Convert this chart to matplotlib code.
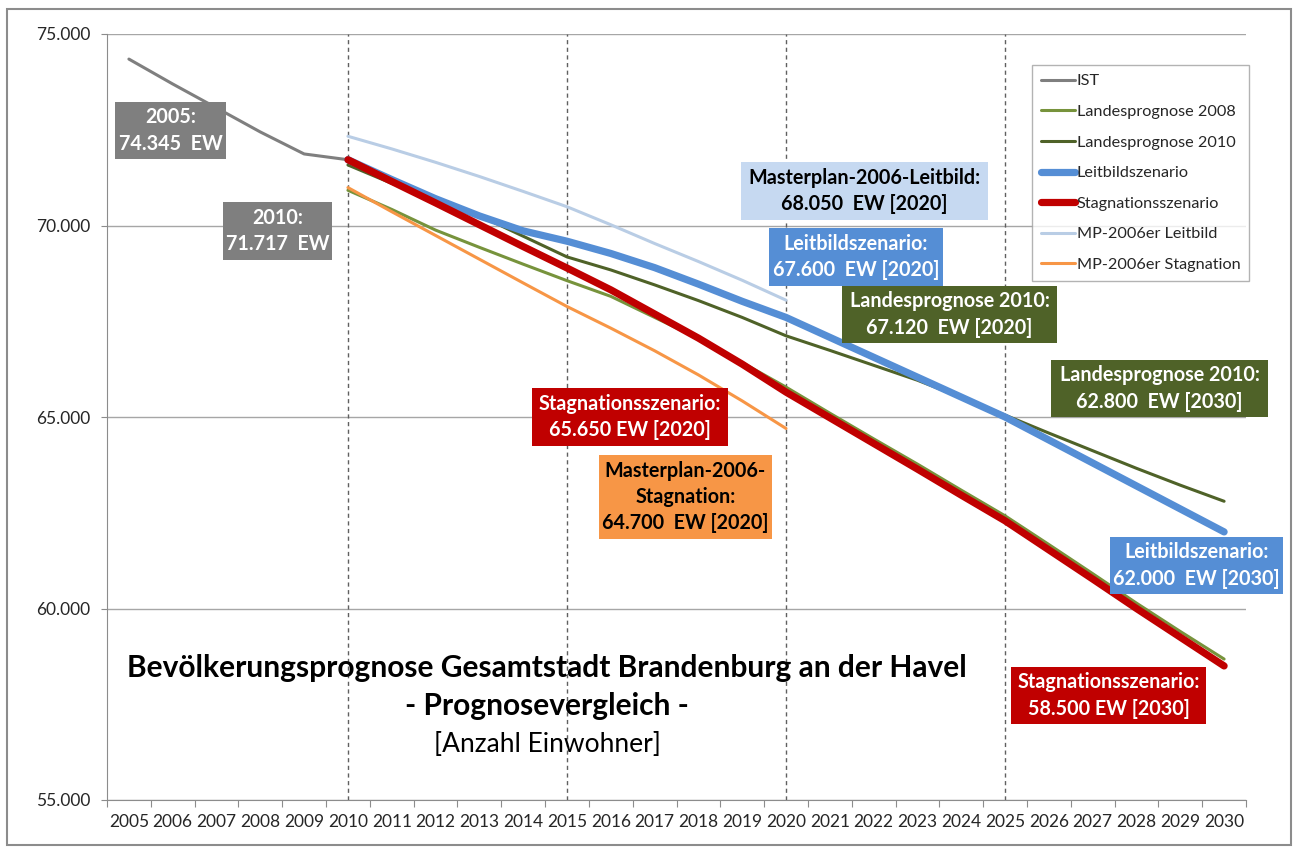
import numpy as np
import matplotlib
matplotlib.use("Agg")
import matplotlib.pyplot as plt
from matplotlib.patches import Rectangle
from matplotlib.ticker import FixedLocator, FuncFormatter, NullFormatter

plt.rcParams['font.family'] = ['Lato', 'DejaVu Sans']

# --- data (Einwohner) ---
years = list(range(2005, 2031))
ist = [74345, 73695, 73070, 72442, 71868, 71717]                 # 2005-2010
# prognoses 2010-2030
lp2008 = [70920, 70420, 69880, 69430, 68990, 68560, 68150, 67600, 67050, 66420, 65780,
          65100, 64430, 63770, 63090, 62420, 61670, 60910, 60140, 59400, 58680]
lp2010 = [71580, 71100, 70700, 70260, 69720, 69180, 68840, 68450, 68040, 67600, 67120,
          66740, 66350, 65960, 65510, 65050, 64580, 64120, 63660, 63220, 62800]
leitbild = [71717, 71200, 70700, 70250, 69860, 69590, 69270, 68900, 68470, 68020, 67600,
            67080, 66560, 66040, 65520, 65000, 64400, 63800, 63200, 62600, 62000]
stagnation = [71717, 71150, 70590, 70020, 69450, 68890, 68320, 67690, 67060, 66380, 65650,
              64980, 64310, 63640, 62960, 62290, 61530, 60770, 60000, 59250, 58500]
mp_leitbild = [72330, 72000, 71650, 71280, 70890, 70490, 70020, 69530, 69060, 68570, 68050]
mp_stagnation = [70990, 70360, 69740, 69120, 68500, 67885, 67320, 66730, 66100, 65420, 64700]

marker_years = [2010, 2015, 2020, 2025]

W, H = 1293, 848
fig = plt.figure(figsize=(W / 100, H / 100), dpi=100)
ax = fig.add_axes([107 / W, 1 - 800 / H, (1246 - 107) / W, (800 - 34) / H])

idx = np.arange(len(years))
i10 = years.index(2010)


def pad(vals, start):
    out = np.full(len(years), np.nan)
    out[start:start + len(vals)] = vals
    return out


series = [
    ("IST", pad(ist, 0), '#7f7f7f', 2.2),
    ("Landesprognose 2008", pad(lp2008, i10), '#77933c', 2.2),
    ("Landesprognose 2010", pad(lp2010, i10), '#4f6228', 2.2),
    ("Leitbildszenario", pad(leitbild, i10), '#558ed5', 5.2),
    ("Stagnationsszenario", pad(stagnation, i10), '#c00000', 5.2),
    ("MP-2006er Leitbild", pad(mp_leitbild, i10), '#b9cde5', 2.2),
    ("MP-2006er Stagnation", pad(mp_stagnation, i10), '#f79646', 2.2),
]
for name, vals, col, lw in series:
    ax.plot(idx, vals, color=col, lw=lw, label=name, solid_capstyle='round', zorder=3)

for y in marker_years:
    ax.axvline(years.index(y), color='#606060', lw=1, ls=(0, (3, 2.5)), zorder=2)

# axes styling
ax.set_xlim(-0.5, len(years) - 0.5)
ax.set_ylim(55000, 75000)
ax.set_yticks(range(55000, 75001, 5000))
ax.yaxis.set_major_formatter(FuncFormatter(lambda v, p: f"{v:,.0f}".replace(',', '.')))
ax.grid(axis='y', color='#a6a6a6', lw=1)
ax.set_axisbelow(True)
ax.xaxis.set_major_locator(FixedLocator(np.arange(-0.5, len(years), 1.0)))
ax.xaxis.set_major_formatter(NullFormatter())
ax.xaxis.set_minor_locator(FixedLocator(idx))
ax.set_xticklabels([str(y) for y in years], minor=True)
ax.tick_params(axis='x', which='major', length=5, color='#8c8c8c')
ax.tick_params(axis='x', which='minor', length=0, pad=10, labelsize=12.5, labelcolor='#262626')
ax.tick_params(axis='y', length=4, color='#8c8c8c', pad=8, labelsize=12.5, labelcolor='#262626')
for s in ['top', 'right']:
    ax.spines[s].set_visible(False)
for s in ['left', 'bottom']:
    ax.spines[s].set_color('#8c8c8c')

leg = ax.legend(loc='upper left', bbox_to_anchor=(1032 / W, 1 - 65 / H),
                bbox_transform=fig.transFigure, fontsize=11.7, frameon=True,
                fancybox=False, edgecolor='#a0a0a0', labelspacing=1.0,
                handlelength=2.1, handletextpad=0.1, borderpad=0.55, borderaxespad=0)
leg.get_frame().set_linewidth(1)
for t in leg.get_texts():
    t.set_color('#262626')

# title block
fig.text(547 / W, 1 - 668 / H, "Bevölkerungsprognose Gesamtstadt Brandenburg an der Havel",
         ha='center', va='center', fontsize=21.5, fontweight='bold', color='black')
fig.text(547 / W, 1 - 706 / H, "- Prognosevergleich -", ha='center', va='center',
         fontsize=21.5, fontweight='bold', color='black')
fig.text(547 / W, 1 - 745 / H, "[Anzahl Einwohner]", ha='center', va='center',
         fontsize=19, color='black')

# value boxes (pixel boxes x0, y0, x1, y1)
boxes = [
    ("2005:\n74.345  EW", (115, 102, 226, 159), '#7f7f7f', 'white'),
    ("2010:\n71.717  EW", (223, 202, 332, 260), '#7f7f7f', 'white'),
    ("Masterplan-2006-Leitbild:\n68.050  EW [2020]", (741, 162, 988, 220), '#c6d9f1', 'black'),
    ("Leitbildszenario:\n67.600  EW [2020]", (769, 228, 943, 286), '#558ed5', 'white'),
    ("Landesprognose 2010:\n67.120  EW [2020]", (842, 286, 1057, 343), '#4f6228', 'white'),
    ("Landesprognose 2010:\n62.800  EW [2030]", (1051, 360, 1268, 417), '#4f6228', 'white'),
    ("Stagnationsszenario:\n65.650 EW [2020]", (532, 388, 728, 446), '#c00000', 'white'),
    ("Masterplan-2006-\nStagnation:\n64.700  EW [2020]", (599, 455, 772, 539), '#f79646', 'black'),
    ("Leitbildszenario:\n62.000  EW [2030]", (1110, 537, 1283, 594), '#558ed5', 'white'),
    ("Stagnationsszenario:\n58.500 EW [2030]", (1011, 667, 1206, 724), '#c00000', 'white'),
]
for txt, (x0, y0, x1, y1), fc, tc in boxes:
    fig.patches.append(Rectangle((x0 / W, 1 - y1 / H), (x1 - x0) / W, (y1 - y0) / H,
                                 transform=fig.transFigure, facecolor=fc, edgecolor='none',
                                 zorder=5))
    fig.text((x0 + x1) / 2 / W, 1 - (y0 + y1) / 2 / H, txt, ha='center', va='center',
             fontsize=14.2, fontweight='bold', color=tc, linespacing=1.38, zorder=6)

# outer chart frame
fig.patches.append(Rectangle((7 / W, 1 - 845 / H), (1291 - 7) / W, (845 - 9) / H,
                             transform=fig.transFigure, facecolor='none',
                             edgecolor='#8c8c8c', lw=1.5, zorder=0))

fig.savefig("out.png", dpi=100)
